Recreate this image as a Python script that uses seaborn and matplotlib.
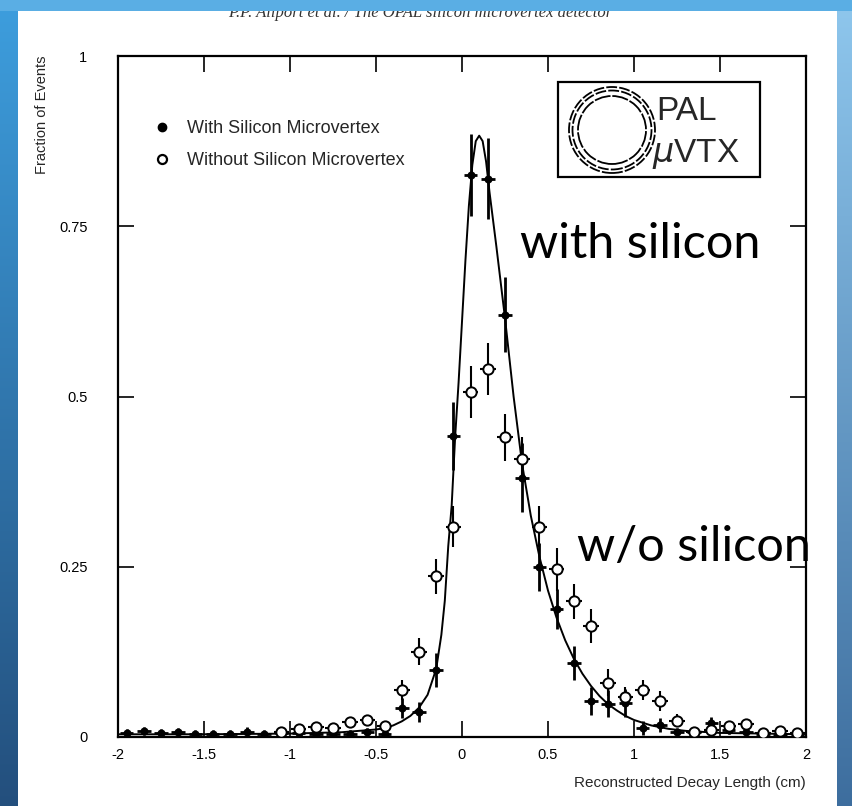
import numpy as np
import matplotlib
matplotlib.use("Agg")
import matplotlib.pyplot as plt
from matplotlib.patches import Rectangle, Ellipse
from matplotlib.lines import Line2D
import seaborn as sns

# ---------------- data ----------------
x_with = [-1.95, -1.85, -1.75, -1.65, -1.55, -1.45, -1.35, -1.25, -1.15, -1.05,
          -0.95, -0.85, -0.75, -0.65, -0.55, -0.45, -0.35, -0.25, -0.15, -0.05,
          0.05, 0.15, 0.25, 0.35, 0.45, 0.55, 0.65, 0.75, 0.85, 0.95,
          1.05, 1.15, 1.25, 1.35, 1.45, 1.55, 1.65, 1.75, 1.85, 1.95]
y_with = [0.006, 0.009, 0.006, 0.007, 0.005, 0.005, 0.004, 0.008, 0.004, 0.006,
          0.006, 0.005, 0.004, 0.005, 0.007, 0.004, 0.043, 0.037, 0.099, 0.442,
          0.825, 0.820, 0.620, 0.381, 0.250, 0.188, 0.109, 0.053, 0.049, 0.050,
          0.013, 0.018, 0.007, 0.007, 0.020, 0.010, 0.008, 0.004, 0.003, 0.003]
err_with = [0.006, 0.006, 0.006, 0.006, 0.006, 0.006, 0.006, 0.006, 0.006, 0.006,
            0.006, 0.006, 0.006, 0.006, 0.006, 0.006, 0.015, 0.015, 0.025, 0.050,
            0.060, 0.060, 0.055, 0.050, 0.035, 0.030, 0.025, 0.020, 0.020, 0.020,
            0.010, 0.010, 0.006, 0.006, 0.010, 0.006, 0.006, 0.006, 0.006, 0.006]

x_without = [-1.05, -0.95, -0.85, -0.75, -0.65, -0.55, -0.45, -0.35, -0.25, -0.15,
             -0.05, 0.05, 0.15, 0.25, 0.35, 0.45, 0.55, 0.65, 0.75, 0.85,
             0.95, 1.05, 1.15, 1.25, 1.35, 1.45, 1.55, 1.65, 1.75, 1.85, 1.95]
y_without = [0.008, 0.012, 0.015, 0.013, 0.022, 0.025, 0.016, 0.069, 0.125, 0.236,
             0.309, 0.507, 0.540, 0.440, 0.408, 0.309, 0.246, 0.199, 0.163, 0.080,
             0.059, 0.069, 0.053, 0.024, 0.008, 0.010, 0.016, 0.019, 0.006, 0.009, 0.006]
err_without = [0.007, 0.007, 0.007, 0.007, 0.008, 0.008, 0.008, 0.015, 0.020, 0.026,
               0.030, 0.038, 0.038, 0.035, 0.032, 0.030, 0.032, 0.025, 0.025, 0.020,
               0.015, 0.015, 0.015, 0.010, 0.006, 0.006, 0.008, 0.008, 0.006, 0.006, 0.006]

# fit curve, points
fit_x = [-2.0, -1.5, -1.0, -0.7, -0.5, -0.45, -0.4, -0.35, -0.3, -0.25, -0.2, -0.15,
         -0.12, -0.1, -0.08, -0.06, -0.04, -0.02, 0.0, 0.02, 0.04, 0.06, 0.08, 0.1,
         0.12, 0.14, 0.16, 0.18, 0.2, 0.25, 0.3, 0.35, 0.4, 0.45, 0.5, 0.55, 0.6,
         0.65, 0.7, 0.75, 0.8, 0.85, 0.9, 0.95, 1.0, 1.1, 1.2, 1.3, 1.5, 2.0]
fit_y = [0.004, 0.004, 0.005, 0.007, 0.011, 0.013, 0.017, 0.023, 0.031, 0.043, 0.062, 0.100,
         0.150, 0.200, 0.280, 0.340, 0.440, 0.520, 0.610, 0.700, 0.780, 0.840, 0.875, 0.883,
         0.875, 0.845, 0.800, 0.760, 0.720, 0.615, 0.500, 0.400, 0.325, 0.265, 0.215, 0.175, 0.142,
         0.115, 0.093, 0.075, 0.060, 0.048, 0.039, 0.031, 0.025, 0.017, 0.012, 0.009, 0.006, 0.004]

x_ticks = [-2, -1.5, -1, -0.5, 0, 0.5, 1, 1.5, 2]
x_tick_labels = ["-2", "-1.5", "-1", "-0.5", "0", "0.5", "1", "1.5", "2"]
y_ticks = [0, 0.25, 0.5, 0.75, 1]
y_tick_labels = ["0", "0.25", "0.5", "0.75", "1"]

legend_labels = ["With Silicon Microvertex", "Without Silicon Microvertex"]
x_title = "Reconstructed Decay Length (cm)"
y_title = "Fraction of Events"
header = "P.P. Allport et al. / The OPAL silicon microvertex detector"

# ---------------- style ----------------
sns.set_style("ticks")
plt.rcParams["font.family"] = ["Liberation Sans", "DejaVu Sans"]

W, H = 852, 806
fig = plt.figure(figsize=(W / 100, H / 100), dpi=100)

# slide background (blue frame + white page)
bg = fig.add_axes([0, 0, 1, 1], zorder=-10)
bg.set_xlim(0, W)
bg.set_ylim(H, 0)
bg.axis("off")
img = np.ones((H, W, 3))
top_l = np.array([0.24, 0.62, 0.87]); bot_l = np.array([0.14, 0.31, 0.49])
t = np.linspace(0, 1, H)[:, None]
img[:, :18, :] = (top_l * (1 - t) + bot_l * t)[:, None, :]
top_r = np.array([0.56, 0.78, 0.93]); bot_r = np.array([0.24, 0.43, 0.62])
img[:, 837:, :] = (top_r * (1 - t) + bot_r * t)[:, None, :]
s = np.linspace(0, 1, W)[:, None]
band_l = np.array([0.28, 0.63, 0.88]); band_r = np.array([0.62, 0.83, 0.95])
img[:11, :, :] = (band_l * (1 - s) + band_r * s)[None, :, :]
bg.imshow(img, extent=(0, W, H, 0), aspect="auto", interpolation="bilinear")

# header text, partly hidden by the top band
fig.text(420 / W, 1 - 17 / H, header, ha="center", va="baseline", fontsize=12,
         style="italic", family=["Liberation Serif"], color="#333333", zorder=-5)
fig.patches.append(Rectangle((0, 1 - 11 / H), 1, 11 / H, transform=fig.transFigure,
                             facecolor="#5aaee4", edgecolor="none", zorder=-4))

# ---------------- main axes ----------------
L, R, T, B = 118, 806, 56, 737
ax = fig.add_axes([L / W, 1 - B / H, (R - L) / W, (B - T) / H])
ax.set_facecolor("white")

sns.lineplot(x=fit_x, y=fit_y, ax=ax, color="black", lw=1.4, estimator=None,
             sort=False, zorder=3)

ax.errorbar(x_with, y_with, yerr=err_with, xerr=0.04, fmt="none", ecolor="black",
            elinewidth=2.0, capsize=0, zorder=4)
sns.scatterplot(x=x_with, y=y_with, ax=ax, color="black", s=28, marker="o",
                edgecolor="black", linewidth=0.5, zorder=5)

ax.errorbar(x_without, y_without, yerr=err_without, xerr=0.045, fmt="none",
            ecolor="black", elinewidth=1.5, capsize=0, zorder=6)
sns.scatterplot(x=x_without, y=y_without, ax=ax, facecolor="white", s=55,
                marker="o", edgecolor="black", linewidth=1.4, zorder=7)

ax.set_xlim(-2, 2)
ax.set_ylim(0, 1)
ax.set_xticks(x_ticks)
ax.set_xticklabels(x_tick_labels)
ax.set_yticks(y_ticks)
ax.set_yticklabels(y_tick_labels)
ax.tick_params(direction="in", length=11.5, width=1.2, top=True, right=True,
               labelsize=10.5, colors="black")
ax.tick_params(axis="y", pad=22)
ax.tick_params(axis="x", pad=8)
for sp in ax.spines.values():
    sp.set_linewidth(1.6)
    sp.set_color("black")

ax.set_xlabel(x_title, fontsize=11, loc="right", labelpad=10)
ax.set_ylabel(y_title, fontsize=10.5, loc="top", labelpad=7)

# legend
handles = [Line2D([], [], marker="o", ls="none", color="black", markersize=6),
           Line2D([], [], marker="o", ls="none", markerfacecolor="white",
                  markeredgecolor="black", markeredgewidth=1.6, markersize=6.5)]
ax.legend(handles, legend_labels, loc="upper left", bbox_to_anchor=(0.027, 0.93),
          frameon=False, fontsize=13, handlelength=1.0, handletextpad=0.9,
          labelspacing=0.85)

# OPAL logo box
bx0, bx1 = (558 - L) / (R - L), (760 - L) / (R - L)
by0, by1 = (B - 177) / (B - T), (B - 82) / (B - T)
ax.add_patch(Rectangle((bx0, by0), bx1 - bx0, by1 - by0, transform=ax.transAxes,
                       fill=False, edgecolor="black", lw=1.6, zorder=8))
cxp, cyp = (612 - L) / (R - L), (B - 130) / (B - T)
for r, ls, lw in [(43, (0, (6, 1.2)), 1.3), (39.5, (0, (6, 1.2)), 1.3), (34, (0, (9, 1)), 1.3)]:
    ax.add_patch(Ellipse((cxp, cyp), 2 * r / (R - L), 2 * r / (B - T),
                         transform=ax.transAxes, fill=False, edgecolor="black",
                         lw=lw, linestyle=ls, zorder=8))
ax.text((656 - L) / (R - L), (B - 120) / (B - T), "PAL", transform=ax.transAxes,
        fontsize=24, va="baseline", ha="left", zorder=8)
ax.text((652 - L) / (R - L), (B - 162) / (B - T), r"$\mu$VTX", transform=ax.transAxes,
        fontsize=24, va="baseline", ha="left", zorder=8)

# slide annotations
ax.text((520 - L) / (R - L), (B - 258) / (B - T), "with silicon", transform=ax.transAxes,
        fontsize=35, family=["Lato", "DejaVu Sans"], va="baseline", ha="left",
        color="black", zorder=9, clip_on=False)
ax.text((577 - L) / (R - L), (B - 561) / (B - T), "w/o silicon", transform=ax.transAxes,
        fontsize=35, family=["Lato", "DejaVu Sans"], va="baseline", ha="left",
        color="black", zorder=9, clip_on=False)

fig.savefig("out.png", dpi=100)
